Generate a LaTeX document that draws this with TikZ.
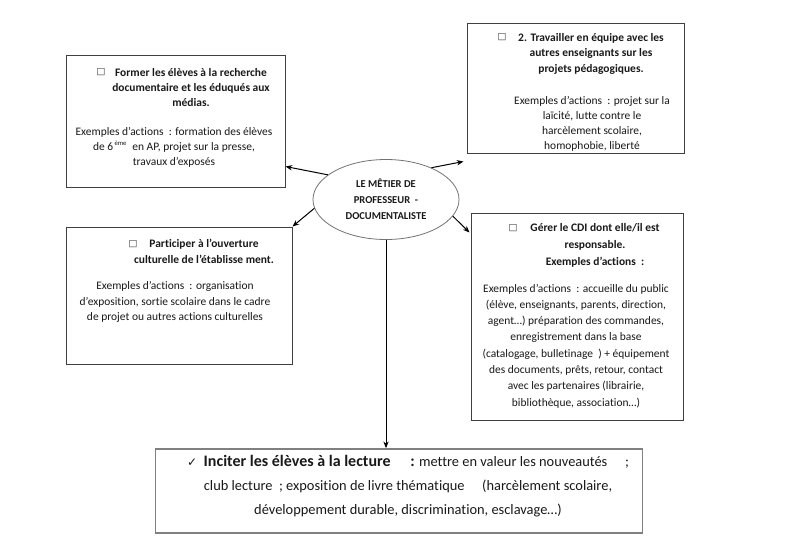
\documentclass[tikz,border=0pt]{standalone}
\usepackage{fontspec}
\setmainfont{Carlito}[Ligatures=NoCommon]
\newfontfamily\symfont{DejaVu Sans}
\usetikzlibrary{arrows.meta,calc,shapes.geometric}
\newcommand{\carre}{{\symfont\fontsize{7}{7}\selectfont\char"25A1}}
\begin{document}
\begin{tikzpicture}[x=0.75pt,y=-0.75pt,>={Stealth[length=5pt,width=4pt]},
    cadre/.style={draw=black!75,line width=0.75pt,inner sep=0pt},
    titre/.style={font=\fontsize{8.6}{11.6}\selectfont\bfseries,align=center,inner sep=0pt,text=black!90},
    texte/.style={font=\fontsize{8.6}{11.3}\selectfont,align=center,inner sep=0pt,text=black!90},
    puce/.style={inner sep=0pt,text=black!80},
    lien/.style={->,line width=0.75pt}]
    \useasboundingbox[fill=white] (0,0) rectangle (800,554);
    \node[cadre,minimum width=164.25pt,minimum height=99pt] (former) at (175.5,121) {};
    \node[cadre,minimum width=162.75pt,minimum height=97.5pt] (equipe) at (575.5,88) {};
    \node[cadre,minimum width=169.5pt,minimum height=102.75pt] (culture) at (179,295.5) {};
    \node[cadre,minimum width=159pt,minimum height=155.25pt] (cdi) at (577,316.5) {};
    \node[draw=black!50,line width=1.3pt,minimum width=365.25pt,minimum height=63pt] (lire) at (399,491) {};
    \node[ellipse,draw=black!55,line width=0.6pt,minimum width=109.5pt,minimum height=60pt,
      font=\fontsize{7.9}{12}\selectfont\bfseries,align=center,text=black!90] (metier) at (386,199.5)
      {LE MÊTIER DE\\PROFESSEUR \ -\\DOCUMENTALISTE};
    \node[puce] (pA) at (101,72) {\carre};
    \node[titre] (tA) at (191,87.5) {Former les élèves à la recherche\\documentaire et les éduqués aux\\médias.};
    \node[texte] (eA) at (174,147) {Exemples d’actions \ : formation des élèves\\de 6\textsuperscript{\,\tiny ème}\ \ en AP, projet sur la presse,\\travaux d’exposés};
    \node[puce] (pB) at (502,37) {\carre};
    \node[titre] (tB) at (591,53.5) {2. Travailler en équipe avec les\\autres enseignants sur les\\projets pédagogiques.};
    \node[texte] (eB) at (592,124) {Exemples d’actions \ : projet sur la\\laïcité, lutte contre le\\harcèlement scolaire,\\homophobie, liberté};
    \node[puce] (pC) at (133,244) {\carre};
    \node[titre] (tC) at (204,251.5) {Participer à l’ouverture\\culturelle de l’établisse ment.};
    \node[texte] (eC) at (175,302) {Exemples d’actions \ : organisation\\d’exposition, sortie scolaire dans le cadre\\de projet ou autres actions culturelles};
    \node[puce] (pD) at (513,228) {\carre};
    \node[titre,font=\fontsize{8.6}{12.7}\selectfont\bfseries] (tD) at (595,245) {Gérer le CDI dont elle/il est\\responsable.\\Exemples d’actions \ :};
    \node[texte,font=\fontsize{8.6}{12.2}\selectfont] (eD) at (576,346)
      {Exemples d’actions \ : accueille du public\\(élève, enseignants, parents, direction,\\agent…) préparation des commandes,\\enregistrement dans la base\\(catalogage, bulletinage \ ) + équipement\\des documents, prêts, retour, contact\\avec les partenaires (librairie,\\bibliothèque, association…)};
    \node[texte,font=\fontsize{10.8}{18}\selectfont] (eE) at (408,486)
      {{\symfont\fontsize{9}{9}\selectfont ✓}\ \ {\fontsize{12}{18}\selectfont\bfseries Inciter les élèves à la lecture \quad :} mettre en valeur les nouveautés \quad ;\\club lecture \ ; exposition de livre thématique \quad (harcèlement scolaire,\\développement durable, discrimination, esclavage…)};
    \coordinate (bA) at ($(former.south east)+(0,-21)$);
    \coordinate (bB) at ($(equipe.south west)+(-3,8)$);
    \coordinate (bD) at ($(cdi.north west)+(-1,20)$);
    \draw[lien] (metier.157) -- (bA);
    \draw[lien] (metier.35) -- (bB);
    \draw[lien] (metier.187) -- (culture.north east);
    \draw[lien] (metier.346) -- (bD);
    \draw[lien] (metier.south) -- (metier.south |- lire.north);
\end{tikzpicture}
\end{document}
